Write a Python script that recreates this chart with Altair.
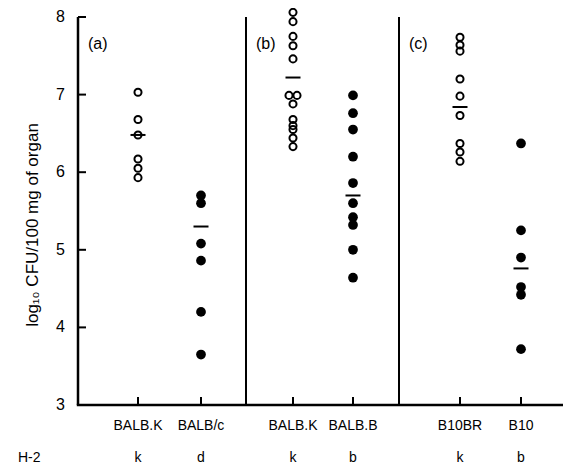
import altair as alt
import pandas as pd

# ---- data ----
strain_labels = ["BALB.K", "BALB/c", "BALB.K", "BALB.B", "B10BR", "B10"]
h2_labels = ["k", "d", "k", "b", "k", "b"]
panel_labels = ["(a)", "(b)", "(c)"]
marker_kind = ["open", "filled", "open", "filled", "open", "filled"]

vals_a_balbk = [7.03, 6.68, 6.48, 6.17, 6.05, 5.93]
vals_a_balbc = [5.70, 5.60, 5.08, 4.86, 4.20, 3.65]
vals_b_balbk = [8.06, 7.94, 7.75, 7.63, 7.46, 6.99, 6.99, 6.88, 6.68, 6.60, 6.55, 6.44, 6.33]
vals_b_balbb = [6.99, 6.76, 6.55, 6.20, 5.86, 5.60, 5.42, 5.32, 5.00, 4.64]
vals_c_b10br = [7.74, 7.64, 7.56, 7.20, 6.98, 6.73, 6.37, 6.26, 6.14]
vals_c_b10 = [6.37, 5.25, 4.90, 4.52, 4.42, 3.72]
group_means = [6.48, 5.30, 7.22, 5.70, 6.84, 4.76]
y_ticks = [3, 4, 5, 6, 7, 8]
y_title = "log\u2081\u2080 CFU/100 mg of organ"

# ---- layout ----
TOTAL_W, TOTAL_H = 556, 462      # whole drawing, page margin excluded
LEFT, TOP = 70, 9                # plot frame origin inside the drawing
W, H = 485, 388                  # plot frame size
Y0, Y1 = 3, 8
PPU = H / (Y1 - Y0)              # pixels per y unit
PX = 1 / PPU
x_dom = [-LEFT, TOTAL_W - LEFT]
y_dom = [Y0 - (TOTAL_H - TOP - H) / PPU, Y1 + TOP / PPU]

group_pos = [60, 123, 215, 275, 382, 443]
divider_pos = [168, 321]
panel_start = [0, 168, 321]
jitter = {(2, 5): -4, (2, 6): 4}

all_vals = [vals_a_balbk, vals_a_balbc, vals_b_balbk, vals_b_balbb, vals_c_b10br, vals_c_b10]
rows = []
for gi, vals in enumerate(all_vals):
    for vi, v in enumerate(vals):
        rows.append({"x": group_pos[gi] + jitter.get((gi, vi), 0), "y": v, "kind": marker_kind[gi]})
pts = pd.DataFrame(rows)
means = pd.DataFrame({"x": group_pos, "y": group_means})

rules = []
rules.append({"x": 0, "x2": 0, "y": Y0, "y2": Y1, "w": 2.5})          # y axis line
rules.append({"x": -1.2, "x2": W, "y": Y0, "y2": Y0, "w": 2.5})       # x axis line
for d in divider_pos:
    rules.append({"x": d, "x2": d, "y": Y0, "y2": Y1, "w": 2})
for t in group_pos + divider_pos:
    rules.append({"x": t, "x2": t, "y": Y0, "y2": Y0 + 8 * PX, "w": 2})
for t in y_ticks:
    rules.append({"x": 0, "x2": 8, "y": t, "y2": t, "w": 2})
rules_df = pd.DataFrame(rules)

texts = []
for t in y_ticks:
    texts.append({"x": -13, "y": t, "txt": str(t), "size": 16, "align": "right", "angle": 0})
texts.append({"x": -45, "y": (Y0 + Y1) / 2 - 14 * PX, "txt": y_title, "size": 17,
              "align": "center", "angle": 270})
for p, lab in zip(panel_start, panel_labels):
    texts.append({"x": p + 10, "y": Y1 - 27 * PX, "txt": lab, "size": 16, "align": "left", "angle": 0})
for g, s, h in zip(group_pos, strain_labels, h2_labels):
    texts.append({"x": g, "y": Y0 - 21 * PX, "txt": s, "size": 14, "align": "center", "angle": 0})
    texts.append({"x": g, "y": Y0 - 53 * PX, "txt": h, "size": 14, "align": "center", "angle": 0})
texts.append({"x": -60, "y": Y0 - 53 * PX, "txt": "H-2", "size": 14, "align": "left", "angle": 0})
texts_df = pd.DataFrame(texts)

FONT = "Liberation Sans"
xs = alt.Scale(domain=x_dom, nice=False, zero=False)
ys = alt.Scale(domain=y_dom, nice=False, zero=False)

frame = alt.Chart(rules_df).mark_rule(color="black", opacity=1).encode(
    x=alt.X("x:Q", scale=xs, axis=None),
    x2="x2:Q",
    y=alt.Y("y:Q", scale=ys, axis=None),
    y2="y2:Q",
    strokeWidth=alt.StrokeWidth("w:Q", scale=None, legend=None),
)

open_pts = alt.Chart(pts).transform_filter(alt.datum.kind == "open").mark_point(
    shape="circle", filled=False, size=50, stroke="black", strokeWidth=2, opacity=1
).encode(
    x=alt.X("x:Q", scale=xs, axis=None),
    y=alt.Y("y:Q", scale=ys, axis=None),
)

filled_pts = alt.Chart(pts).transform_filter(alt.datum.kind == "filled").mark_circle(
    size=95, color="black", opacity=1
).encode(
    x=alt.X("x:Q", scale=xs, axis=None),
    y=alt.Y("y:Q", scale=ys, axis=None),
)

mean_ticks = alt.Chart(means).mark_tick(
    orient="horizontal", size=15, thickness=2, color="black", opacity=1
).encode(
    x=alt.X("x:Q", scale=xs, axis=None),
    y=alt.Y("y:Q", scale=ys, axis=None),
)

def text_layer(align, angle):
    return alt.Chart(texts_df).transform_filter(
        (alt.datum.align == align) & (alt.datum.angle == angle)
    ).mark_text(align=align, baseline="middle", font=FONT, color="black", angle=angle).encode(
        x=alt.X("x:Q", scale=xs, axis=None),
        y=alt.Y("y:Q", scale=ys, axis=None),
        text="txt:N",
        size=alt.Size("size:Q", scale=None, legend=None),
    )

chart = alt.layer(
    frame, open_pts, filled_pts, mean_ticks,
    text_layer("right", 0), text_layer("left", 0), text_layer("center", 0),
    text_layer("center", 270),
).properties(
    width=TOTAL_W, height=TOTAL_H,
    autosize=alt.AutoSizeParams(type="none"),
    padding=0,
    background="white",
).configure_view(stroke=None)

chart.save("out.html", embed_options={"renderer": "svg", "actions": False})
